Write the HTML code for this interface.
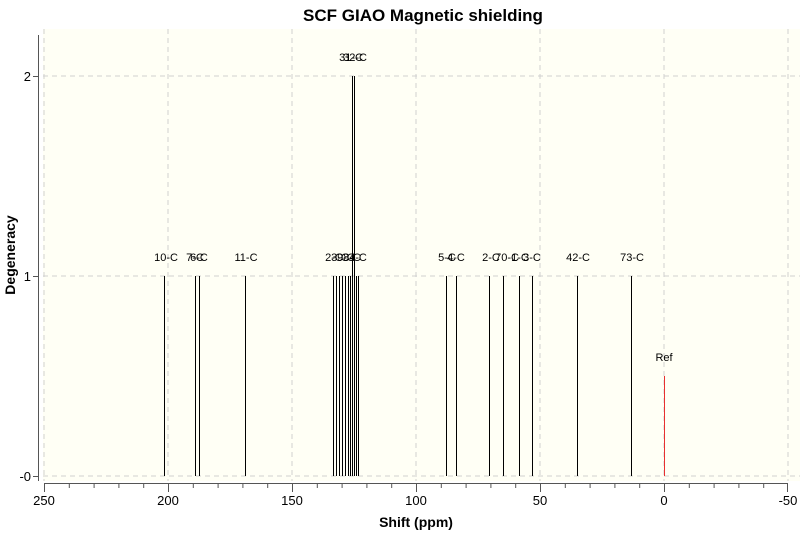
<!DOCTYPE html>
<html><head><style>body{margin:0;background:#fff}svg{display:block}text{font-family:"Liberation Sans",sans-serif}</style></head>
<body>
<svg width="800" height="539" viewBox="0 0 800 539">
<rect x="43" y="29" width="757" height="452" fill="#fffff5"/>
<g stroke="#d0d0d0" stroke-dasharray="5,4" stroke-width="1">
<line x1="44" y1="29" x2="44" y2="481"/><line x1="168" y1="29" x2="168" y2="481"/><line x1="292" y1="29" x2="292" y2="481"/><line x1="416" y1="29" x2="416" y2="481"/><line x1="540" y1="29" x2="540" y2="481"/><line x1="664" y1="29" x2="664" y2="481"/><line x1="788" y1="29" x2="788" y2="481"/>
<line x1="43" y1="76" x2="800" y2="76"/><line x1="43" y1="276" x2="800" y2="276"/><line x1="43" y1="476" x2="800" y2="476"/>
</g>
<g stroke="#000" stroke-width="1">
<line x1="164.5" y1="276" x2="164.5" y2="476"/><line x1="195.5" y1="276" x2="195.5" y2="476"/><line x1="199.5" y1="276" x2="199.5" y2="476"/><line x1="245.5" y1="276" x2="245.5" y2="476"/>
<line x1="333.5" y1="276" x2="333.5" y2="476"/><line x1="336.5" y1="276" x2="336.5" y2="476"/><line x1="339.5" y1="276" x2="339.5" y2="476"/><line x1="342.5" y1="276" x2="342.5" y2="476"/><line x1="345.5" y1="276" x2="345.5" y2="476"/><line x1="348.5" y1="276" x2="348.5" y2="476"/><line x1="350.5" y1="276" x2="350.5" y2="476"/><line x1="356.5" y1="276" x2="356.5" y2="476"/><line x1="358.5" y1="276" x2="358.5" y2="476"/>
<line x1="352.5" y1="76" x2="352.5" y2="476"/><line x1="354.5" y1="76" x2="354.5" y2="476"/>
<line x1="446.5" y1="276" x2="446.5" y2="476"/><line x1="456.5" y1="276" x2="456.5" y2="476"/><line x1="489.5" y1="276" x2="489.5" y2="476"/><line x1="503.5" y1="276" x2="503.5" y2="476"/><line x1="519.5" y1="276" x2="519.5" y2="476"/><line x1="532.5" y1="276" x2="532.5" y2="476"/><line x1="577.5" y1="276" x2="577.5" y2="476"/><line x1="631.5" y1="276" x2="631.5" y2="476"/>
</g>
<line x1="664.5" y1="376" x2="664.5" y2="476" stroke="#e83030"/>
<g font-size="11" fill="#000" text-anchor="middle">
<text x="166" y="261">10-C</text><text x="195" y="261">7-C</text><text x="199" y="261">6-C</text><text x="246" y="261">11-C</text>
<text x="334" y="261">2-C</text><text x="340" y="261">3-C</text><text x="346" y="261">9-C</text><text x="352" y="261">8-C</text><text x="358" y="261">4-C</text>
<text x="351" y="61">31-C</text><text x="355" y="61">32-C</text>
<text x="447" y="261">5-C</text><text x="456" y="261">4-C</text><text x="491" y="261">2-C</text><text x="507" y="261">70-C</text><text x="520" y="261">1-C</text><text x="532" y="261">3-C</text><text x="578" y="261">42-C</text><text x="632" y="261">73-C</text>
<text x="664" y="361">Ref</text>
</g>
<line x1="38.5" y1="35" x2="38.5" y2="481" stroke="#555"/>
<g stroke="#555"><line x1="33" y1="76.5" x2="38" y2="76.5"/><line x1="33" y1="276.5" x2="38" y2="276.5"/><line x1="33" y1="476.5" x2="38" y2="476.5"/></g>
<g font-size="13" text-anchor="end"><text x="31" y="81">2</text><text x="31" y="281">1</text><text x="31" y="481">-0</text></g>
<line x1="44" y1="483.5" x2="788" y2="483.5" stroke="#555"/>
<g stroke="#555">
<line x1="44.5" y1="483" x2="44.5" y2="492"/><line x1="168.5" y1="483" x2="168.5" y2="492"/><line x1="292.5" y1="483" x2="292.5" y2="492"/><line x1="416.5" y1="483" x2="416.5" y2="492"/><line x1="540.5" y1="483" x2="540.5" y2="492"/><line x1="664.5" y1="483" x2="664.5" y2="492"/><line x1="787.5" y1="483" x2="787.5" y2="492"/>
<line x1="69.3" y1="483" x2="69.3" y2="488"/><line x1="94.1" y1="483" x2="94.1" y2="488"/><line x1="118.9" y1="483" x2="118.9" y2="488"/><line x1="143.7" y1="483" x2="143.7" y2="488"/>
<line x1="193.3" y1="483" x2="193.3" y2="488"/><line x1="218.1" y1="483" x2="218.1" y2="488"/><line x1="242.9" y1="483" x2="242.9" y2="488"/><line x1="267.7" y1="483" x2="267.7" y2="488"/>
<line x1="317.3" y1="483" x2="317.3" y2="488"/><line x1="342.1" y1="483" x2="342.1" y2="488"/><line x1="366.9" y1="483" x2="366.9" y2="488"/><line x1="391.7" y1="483" x2="391.7" y2="488"/>
<line x1="441.3" y1="483" x2="441.3" y2="488"/><line x1="466.1" y1="483" x2="466.1" y2="488"/><line x1="490.9" y1="483" x2="490.9" y2="488"/><line x1="515.7" y1="483" x2="515.7" y2="488"/>
<line x1="565.3" y1="483" x2="565.3" y2="488"/><line x1="590.1" y1="483" x2="590.1" y2="488"/><line x1="614.9" y1="483" x2="614.9" y2="488"/><line x1="639.7" y1="483" x2="639.7" y2="488"/>
<line x1="689.3" y1="483" x2="689.3" y2="488"/><line x1="714.1" y1="483" x2="714.1" y2="488"/><line x1="738.9" y1="483" x2="738.9" y2="488"/><line x1="763.7" y1="483" x2="763.7" y2="488"/>
</g>
<g font-size="13" text-anchor="middle"><text x="44" y="505">250</text><text x="168" y="505">200</text><text x="292" y="505">150</text><text x="416" y="505">100</text><text x="540" y="505">50</text><text x="664" y="505">0</text><text x="788" y="505">-50</text></g>
<text x="416" y="527" font-size="14" font-weight="bold" text-anchor="middle">Shift (ppm)</text>
<text x="423" y="21" font-size="17" font-weight="bold" text-anchor="middle">SCF GIAO Magnetic shielding</text>
<text transform="translate(15,255) rotate(-90)" font-size="14" font-weight="bold" text-anchor="middle">Degeneracy</text>
</svg>
</body></html>
